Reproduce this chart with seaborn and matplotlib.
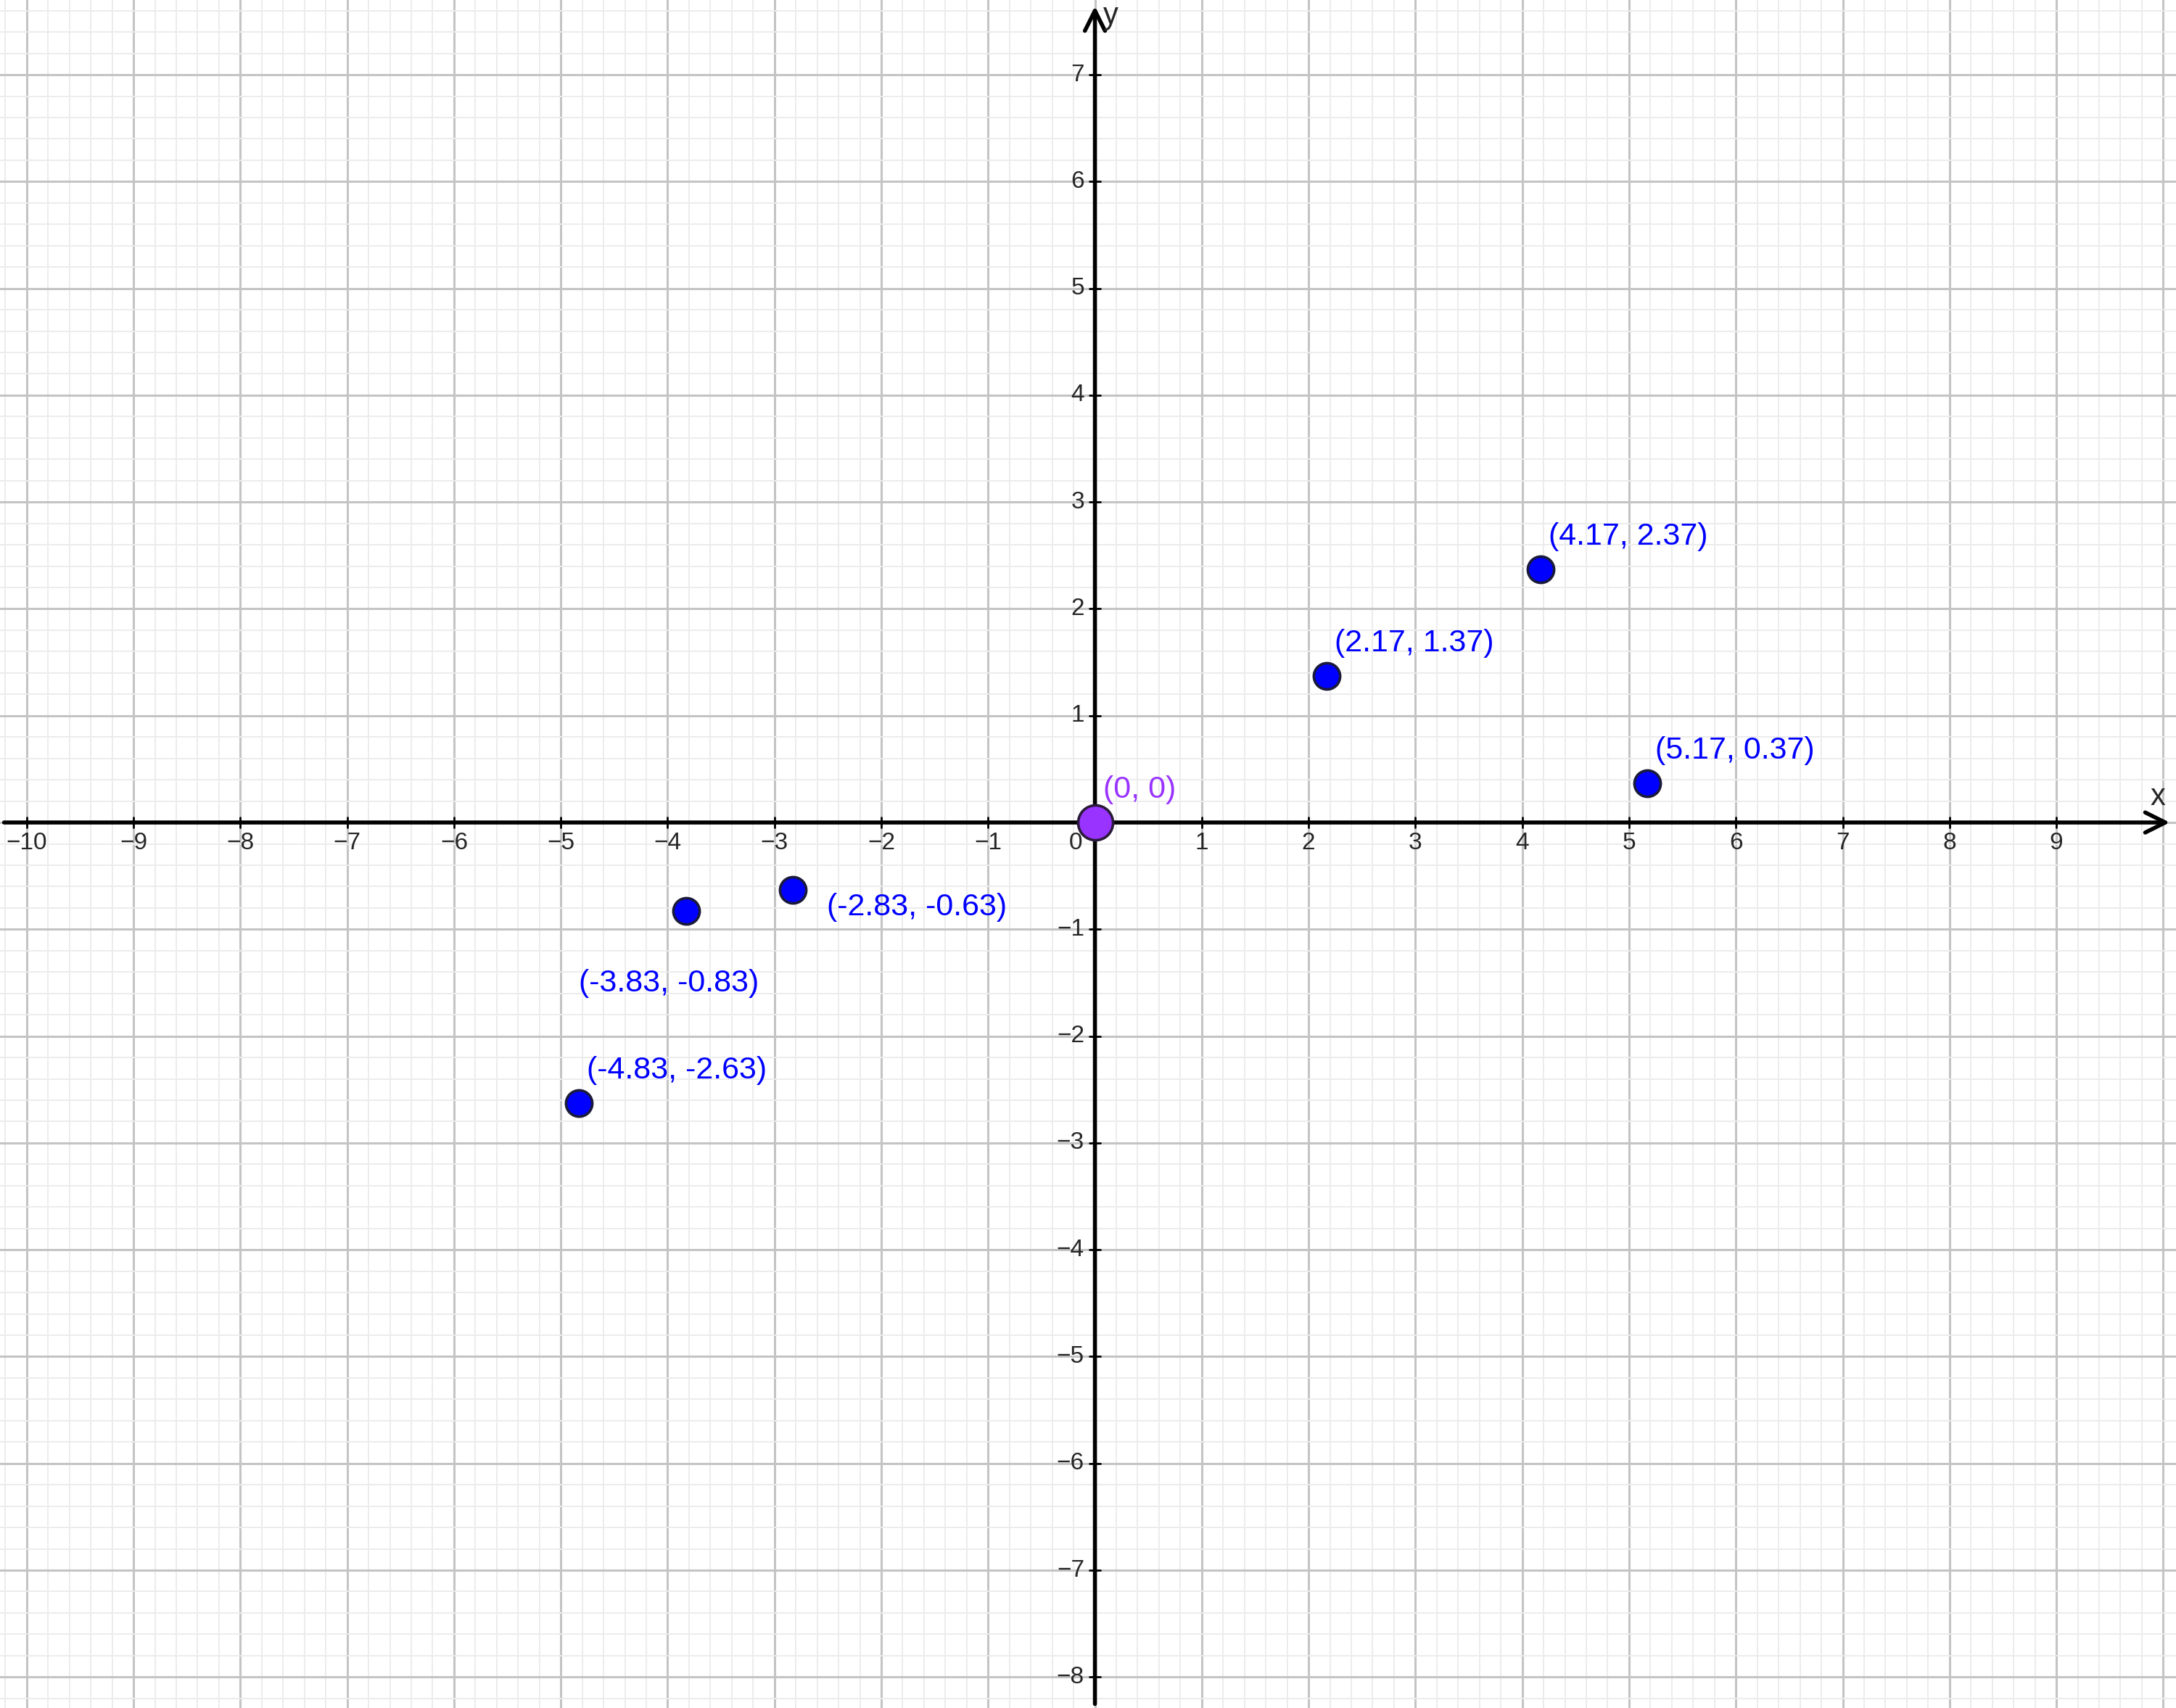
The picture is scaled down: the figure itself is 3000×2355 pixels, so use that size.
import matplotlib
matplotlib.use("Agg")
import matplotlib.pyplot as plt
import seaborn as sns
import numpy as np
import pandas as pd
from matplotlib.ticker import MultipleLocator

# data
pt_x = [2.17, 4.17, 5.17, -2.83, -3.83, -4.83]
pt_y = [1.37, 2.37, 0.37, -0.63, -0.83, -2.63]
pt_labels = ["(2.17, 1.37)", "(4.17, 2.37)", "(5.17, 0.37)",
             "(-2.83, -0.63)", "(-3.83, -0.83)", "(-4.83, -2.63)"]
# label offsets in points
offsets = [(4, 9), (4, 9), (4, 9), (17, -16), (-53, -43), (4, 9)]
origin_label = "(0, 0)"

x_ticks = [v for v in range(-10, 10) if v != 0]
y_ticks = [v for v in range(-8, 8) if v != 0]

sns.set_style("white")
plt.rcParams["font.family"] = ["Liberation Sans", "DejaVu Sans"]

fig = plt.figure(figsize=(15, 11.775), dpi=200)
ax = fig.add_axes([0, 0, 1, 1])
ax.set_xlim(-10.25, 10.12)
ax.set_ylim(-8.29, 7.70)

# grid
ax.xaxis.set_major_locator(MultipleLocator(1))
ax.yaxis.set_major_locator(MultipleLocator(1))
ax.xaxis.set_minor_locator(MultipleLocator(0.2))
ax.yaxis.set_minor_locator(MultipleLocator(0.2))
ax.grid(which="minor", color="#ececec", lw=0.7)
ax.grid(which="major", color="#c4c4c4", lw=1.1)
ax.set_axisbelow(True)
ax.tick_params(which="both", length=0, labelbottom=False, labelleft=False)
for s in ax.spines.values():
    s.set_visible(False)

# axes with arrows
ax.annotate("", xy=(10.1, 0), xytext=(-10.25, 0),
            arrowprops=dict(arrowstyle="->", lw=2, color="black", mutation_scale=25))
ax.annotate("", xy=(0, 7.68), xytext=(0, -8.29),
            arrowprops=dict(arrowstyle="->", lw=2, color="black", mutation_scale=25))
ax.text(9.95, 0.1, "x", fontsize=15, ha="center", va="bottom")
ax.text(0.08, 7.55, "y", fontsize=15, ha="left", va="center")

for v in x_ticks:
    ax.plot([v, v], [-0.05, 0.05], color="black", lw=1)
    ax.text(v, -0.09, str(v).replace("-", "\u2212"), fontsize=12, ha="center", va="top")
for v in y_ticks:
    ax.plot([-0.05, 0.05], [v, v], color="black", lw=1)
    ax.text(-0.1, v, str(v).replace("-", "\u2212"), fontsize=12, ha="right", va="center")
ax.text(-0.12, -0.09, "0", fontsize=12, ha="right", va="top")

df = pd.DataFrame({"x": pt_x, "y": pt_y})
sns.scatterplot(data=df, x="x", y="y", s=170, color="#0000ff",
                edgecolor="#1a1a3a", linewidth=1.3, ax=ax, zorder=5)
sns.scatterplot(x=[0], y=[0], s=300, color="#9933ff",
                edgecolor="#2a1a3a", linewidth=1.3, ax=ax, zorder=6)

for x, y, lab, off in zip(pt_x, pt_y, pt_labels, offsets):
    ax.annotate(lab, (x, y), xytext=off, textcoords="offset points",
                fontsize=15.5, color="#0000ff", ha="left", va="bottom")
ax.annotate(origin_label, (0, 0), xytext=(4, 9), textcoords="offset points",
            fontsize=15.5, color="#9933ff", ha="left", va="bottom")
ax.set_xlabel("")
ax.set_ylabel("")

plt.savefig("out.png", dpi=200)
plt.close(fig)
